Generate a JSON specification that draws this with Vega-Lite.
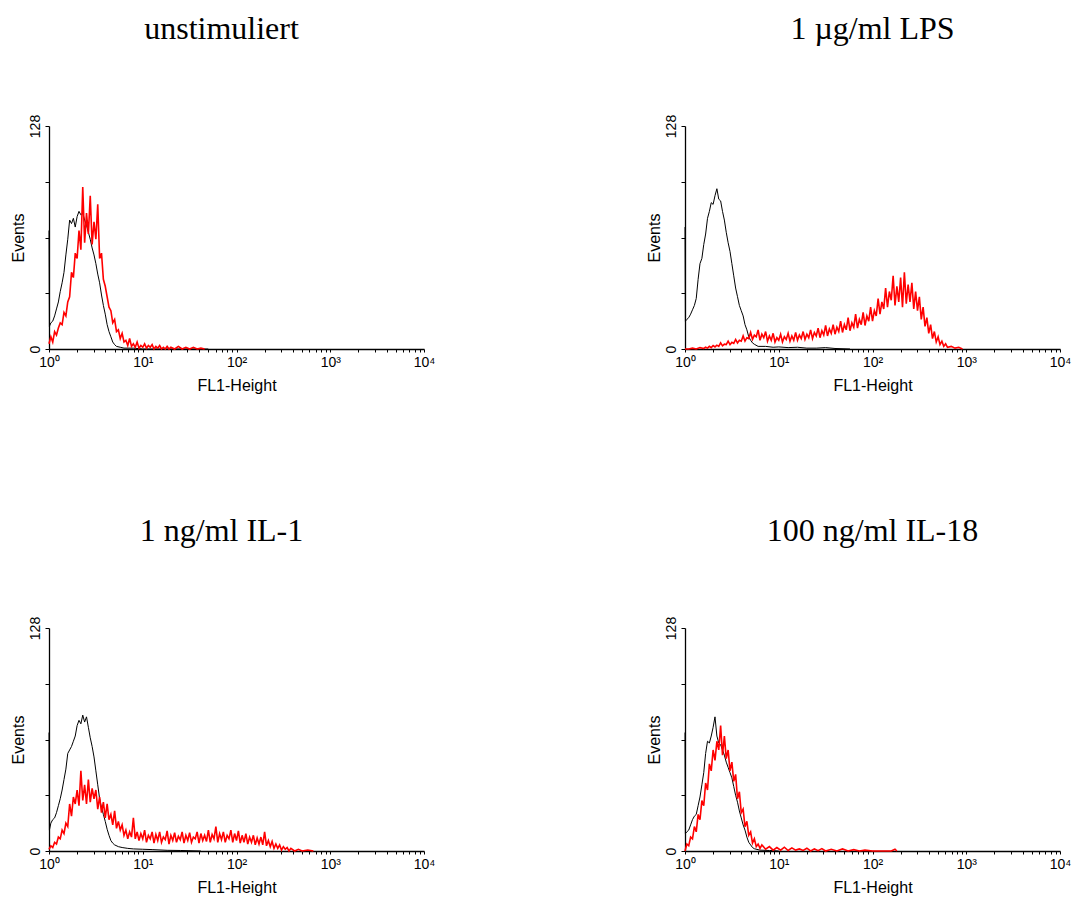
{
"$schema": "https://vega.github.io/schema/vega-lite/v6.json",
"background": "#ffffff",
"padding": {"left": 10, "top": 13, "right": 5, "bottom": 1},
"datasets": {
"a": [
{"s":"c","x":1,"y":68},{"s":"c","x":1.01,"y":13},{"s":"c","x":1.047,"y":15},{"s":"c","x":1.096,"y":16},{"s":"c","x":1.148,"y":19},{"s":"c","x":1.202,"y":23},{"s":"c","x":1.259,"y":27},{"s":"c","x":1.318,"y":33},{"s":"c","x":1.38,"y":38},{"s":"c","x":1.445,"y":44},{"s":"c","x":1.514,"y":54},{"s":"c","x":1.585,"y":63},{"s":"c","x":1.66,"y":74},{"s":"c","x":1.738,"y":72},{"s":"c","x":1.82,"y":75},{"s":"c","x":1.905,"y":70},{"s":"c","x":1.995,"y":76},{"s":"c","x":2.089,"y":79},{"s":"c","x":2.188,"y":77},{"s":"c","x":2.291,"y":78},{"s":"c","x":2.399,"y":74},{"s":"c","x":2.512,"y":71},{"s":"c","x":2.63,"y":67},{"s":"c","x":2.754,"y":63},{"s":"c","x":2.884,"y":58},{"s":"c","x":3.02,"y":54},{"s":"c","x":3.162,"y":49},{"s":"c","x":3.311,"y":43},{"s":"c","x":3.467,"y":38},{"s":"c","x":3.631,"y":31},{"s":"c","x":3.802,"y":25},{"s":"c","x":3.981,"y":20},{"s":"c","x":4.169,"y":14},{"s":"c","x":4.365,"y":10},{"s":"c","x":4.571,"y":7},{"s":"c","x":4.786,"y":4},{"s":"c","x":5.012,"y":2.5},{"s":"c","x":5.248,"y":1.5},{"s":"c","x":5.754,"y":1},{"s":"c","x":6.31,"y":0.5},{"s":"c","x":7.943,"y":0.5},{"s":"c","x":10,"y":0},{"s":"c","x":50,"y":0},
{"s":"t","x":1,"y":3},{"s":"t","x":1.047,"y":7},{"s":"t","x":1.096,"y":4},{"s":"t","x":1.148,"y":10},{"s":"t","x":1.202,"y":8},{"s":"t","x":1.259,"y":12},{"s":"t","x":1.318,"y":15},{"s":"t","x":1.38,"y":14},{"s":"t","x":1.445,"y":21},{"s":"t","x":1.514,"y":19},{"s":"t","x":1.585,"y":27},{"s":"t","x":1.66,"y":30},{"s":"t","x":1.738,"y":44},{"s":"t","x":1.82,"y":41},{"s":"t","x":1.905,"y":55},{"s":"t","x":1.995,"y":52},{"s":"t","x":2.089,"y":68},{"s":"t","x":2.188,"y":57},{"s":"t","x":2.291,"y":93},{"s":"t","x":2.399,"y":61},{"s":"t","x":2.512,"y":78},{"s":"t","x":2.63,"y":66},{"s":"t","x":2.754,"y":88},{"s":"t","x":2.884,"y":60},{"s":"t","x":3.02,"y":73},{"s":"t","x":3.162,"y":63},{"s":"t","x":3.311,"y":83},{"s":"t","x":3.467,"y":52},{"s":"t","x":3.631,"y":55},{"s":"t","x":3.802,"y":40},{"s":"t","x":3.981,"y":36},{"s":"t","x":4.169,"y":30},{"s":"t","x":4.365,"y":24},{"s":"t","x":4.571,"y":22},{"s":"t","x":4.786,"y":15},{"s":"t","x":5.012,"y":17},{"s":"t","x":5.248,"y":10},{"s":"t","x":5.495,"y":11},{"s":"t","x":5.754,"y":6},{"s":"t","x":6.026,"y":9},{"s":"t","x":6.31,"y":4},{"s":"t","x":6.607,"y":5},{"s":"t","x":6.918,"y":2},{"s":"t","x":7.244,"y":6},{"s":"t","x":7.586,"y":1.5},{"s":"t","x":7.943,"y":3},{"s":"t","x":8.318,"y":1},{"s":"t","x":8.71,"y":4},{"s":"t","x":9.12,"y":0.5},{"s":"t","x":9.55,"y":2},{"s":"t","x":10,"y":1},{"s":"t","x":10.47,"y":3},{"s":"t","x":10.96,"y":0.5},{"s":"t","x":11.48,"y":2},{"s":"t","x":12.02,"y":1},{"s":"t","x":12.59,"y":2.5},{"s":"t","x":13.18,"y":0},{"s":"t","x":13.8,"y":1.5},{"s":"t","x":14.45,"y":0.5},{"s":"t","x":15.14,"y":2},{"s":"t","x":15.85,"y":0},{"s":"t","x":16.6,"y":1},{"s":"t","x":17.38,"y":0},{"s":"t","x":18.2,"y":1.5},{"s":"t","x":19.05,"y":0},{"s":"t","x":19.95,"y":1},{"s":"t","x":21.88,"y":0},{"s":"t","x":23.99,"y":1.5},{"s":"t","x":26.3,"y":0},{"s":"t","x":28.84,"y":1},{"s":"t","x":31.62,"y":0},{"s":"t","x":34.67,"y":1},{"s":"t","x":38.02,"y":0},{"s":"t","x":41.69,"y":0.5},{"s":"t","x":45.71,"y":0}
],
"b": [
{"s":"c","x":1,"y":70},{"s":"c","x":1.01,"y":16},{"s":"c","x":1.047,"y":17},{"s":"c","x":1.096,"y":18},{"s":"c","x":1.148,"y":20},{"s":"c","x":1.202,"y":22.5},{"s":"c","x":1.259,"y":25},{"s":"c","x":1.318,"y":29},{"s":"c","x":1.38,"y":40},{"s":"c","x":1.445,"y":49},{"s":"c","x":1.514,"y":52},{"s":"c","x":1.585,"y":60},{"s":"c","x":1.66,"y":66},{"s":"c","x":1.738,"y":75},{"s":"c","x":1.82,"y":79},{"s":"c","x":1.905,"y":84},{"s":"c","x":1.995,"y":83},{"s":"c","x":2.089,"y":88},{"s":"c","x":2.188,"y":92},{"s":"c","x":2.291,"y":86},{"s":"c","x":2.399,"y":85},{"s":"c","x":2.512,"y":79},{"s":"c","x":2.63,"y":74},{"s":"c","x":2.754,"y":67},{"s":"c","x":2.884,"y":61},{"s":"c","x":3.02,"y":56},{"s":"c","x":3.162,"y":49},{"s":"c","x":3.311,"y":42},{"s":"c","x":3.467,"y":35},{"s":"c","x":3.631,"y":30},{"s":"c","x":3.802,"y":25},{"s":"c","x":3.981,"y":22},{"s":"c","x":4.169,"y":19},{"s":"c","x":4.365,"y":14},{"s":"c","x":4.571,"y":11},{"s":"c","x":4.786,"y":7},{"s":"c","x":5.012,"y":5},{"s":"c","x":5.248,"y":3.5},{"s":"c","x":5.495,"y":2.7},{"s":"c","x":6.026,"y":1.5},{"s":"c","x":7.244,"y":1.5},{"s":"c","x":8.71,"y":1},{"s":"c","x":10,"y":1.2},{"s":"c","x":12.59,"y":0.8},{"s":"c","x":15.85,"y":1},{"s":"c","x":19.95,"y":0.5},{"s":"c","x":25.12,"y":0.5},{"s":"c","x":31.62,"y":0.8},{"s":"c","x":39.81,"y":0.3},{"s":"c","x":57.54,"y":0},
{"s":"t","x":1,"y":0},{"s":"t","x":1.096,"y":0},{"s":"t","x":1.202,"y":0.5},{"s":"t","x":1.318,"y":0},{"s":"t","x":1.445,"y":0.8},{"s":"t","x":1.585,"y":0.3},{"s":"t","x":1.66,"y":1},{"s":"t","x":1.738,"y":0.5},{"s":"t","x":1.82,"y":1.5},{"s":"t","x":1.905,"y":0.8},{"s":"t","x":1.995,"y":2},{"s":"t","x":2.089,"y":1.2},{"s":"t","x":2.188,"y":2.2},{"s":"t","x":2.291,"y":1.5},{"s":"t","x":2.399,"y":3.5},{"s":"t","x":2.512,"y":1.8},{"s":"t","x":2.63,"y":2.8},{"s":"t","x":2.754,"y":2.5},{"s":"t","x":2.884,"y":4.5},{"s":"t","x":3.02,"y":2.5},{"s":"t","x":3.162,"y":3.8},{"s":"t","x":3.311,"y":3.2},{"s":"t","x":3.467,"y":5.5},{"s":"t","x":3.631,"y":3.5},{"s":"t","x":3.802,"y":5},{"s":"t","x":3.981,"y":4.5},{"s":"t","x":4.169,"y":7.5},{"s":"t","x":4.365,"y":4.5},{"s":"t","x":4.571,"y":6.5},{"s":"t","x":4.786,"y":6},{"s":"t","x":5.012,"y":9.5},{"s":"t","x":5.248,"y":5.5},{"s":"t","x":5.495,"y":8},{"s":"t","x":5.754,"y":7},{"s":"t","x":6.026,"y":11},{"s":"t","x":6.31,"y":5},{"s":"t","x":6.607,"y":8.5},{"s":"t","x":6.918,"y":6.5},{"s":"t","x":7.244,"y":10},{"s":"t","x":7.586,"y":4.5},{"s":"t","x":7.943,"y":7.5},{"s":"t","x":8.318,"y":5},{"s":"t","x":8.71,"y":9},{"s":"t","x":9.12,"y":4},{"s":"t","x":9.55,"y":6.5},{"s":"t","x":10,"y":5},{"s":"t","x":10.47,"y":8.5},{"s":"t","x":10.96,"y":4},{"s":"t","x":11.48,"y":7},{"s":"t","x":12.02,"y":5.5},{"s":"t","x":12.59,"y":9},{"s":"t","x":13.18,"y":4.5},{"s":"t","x":13.8,"y":7.5},{"s":"t","x":14.45,"y":5},{"s":"t","x":15.14,"y":9.5},{"s":"t","x":15.85,"y":5},{"s":"t","x":16.6,"y":8},{"s":"t","x":17.38,"y":6},{"s":"t","x":18.2,"y":10},{"s":"t","x":19.05,"y":5.5},{"s":"t","x":19.95,"y":8.5},{"s":"t","x":20.89,"y":6.5},{"s":"t","x":21.88,"y":11},{"s":"t","x":22.91,"y":6},{"s":"t","x":23.99,"y":9.5},{"s":"t","x":25.12,"y":7.5},{"s":"t","x":26.3,"y":12},{"s":"t","x":27.54,"y":6.5},{"s":"t","x":28.84,"y":10.5},{"s":"t","x":30.2,"y":8},{"s":"t","x":31.62,"y":13.5},{"s":"t","x":33.11,"y":7.5},{"s":"t","x":34.67,"y":11.5},{"s":"t","x":36.31,"y":9},{"s":"t","x":38.02,"y":14},{"s":"t","x":39.81,"y":8.5},{"s":"t","x":41.69,"y":12.5},{"s":"t","x":43.65,"y":10},{"s":"t","x":45.71,"y":16},{"s":"t","x":47.86,"y":9.5},{"s":"t","x":50.12,"y":14},{"s":"t","x":52.48,"y":11},{"s":"t","x":54.95,"y":18},{"s":"t","x":57.54,"y":10.5},{"s":"t","x":60.26,"y":15},{"s":"t","x":63.1,"y":12.5},{"s":"t","x":66.07,"y":20},{"s":"t","x":69.18,"y":12},{"s":"t","x":72.44,"y":17},{"s":"t","x":75.86,"y":14},{"s":"t","x":79.43,"y":21},{"s":"t","x":83.18,"y":13.5},{"s":"t","x":87.1,"y":19},{"s":"t","x":91.2,"y":16},{"s":"t","x":95.5,"y":24},{"s":"t","x":100,"y":16},{"s":"t","x":104.7,"y":22},{"s":"t","x":109.6,"y":19},{"s":"t","x":114.8,"y":29},{"s":"t","x":120.2,"y":20},{"s":"t","x":125.9,"y":27},{"s":"t","x":131.8,"y":23},{"s":"t","x":138,"y":35},{"s":"t","x":144.5,"y":24},{"s":"t","x":151.4,"y":33},{"s":"t","x":158.5,"y":28},{"s":"t","x":166,"y":42},{"s":"t","x":173.8,"y":25},{"s":"t","x":182,"y":36},{"s":"t","x":190.5,"y":27},{"s":"t","x":199.5,"y":41},{"s":"t","x":208.9,"y":24},{"s":"t","x":218.8,"y":44},{"s":"t","x":229.1,"y":26},{"s":"t","x":239.9,"y":37},{"s":"t","x":251.2,"y":27},{"s":"t","x":263,"y":38},{"s":"t","x":275.4,"y":23},{"s":"t","x":288.4,"y":33},{"s":"t","x":302,"y":22},{"s":"t","x":316.2,"y":30},{"s":"t","x":331.1,"y":17},{"s":"t","x":346.7,"y":24},{"s":"t","x":363.1,"y":13},{"s":"t","x":380.2,"y":18},{"s":"t","x":398.1,"y":9},{"s":"t","x":416.9,"y":14},{"s":"t","x":436.5,"y":6},{"s":"t","x":457.1,"y":10},{"s":"t","x":478.6,"y":4},{"s":"t","x":501.2,"y":7},{"s":"t","x":524.8,"y":2.5},{"s":"t","x":549.5,"y":4.5},{"s":"t","x":575.4,"y":1.5},{"s":"t","x":602.6,"y":3},{"s":"t","x":631,"y":1},{"s":"t","x":691.8,"y":1.5},{"s":"t","x":758.6,"y":0.5},{"s":"t","x":831.8,"y":1},{"s":"t","x":912,"y":0}
],
"c": [
{"s":"c","x":1,"y":68},{"s":"c","x":1.01,"y":12},{"s":"c","x":1.047,"y":16},{"s":"c","x":1.096,"y":18},{"s":"c","x":1.148,"y":19},{"s":"c","x":1.202,"y":22},{"s":"c","x":1.259,"y":26},{"s":"c","x":1.318,"y":30},{"s":"c","x":1.38,"y":35},{"s":"c","x":1.445,"y":41},{"s":"c","x":1.514,"y":47},{"s":"c","x":1.585,"y":56},{"s":"c","x":1.66,"y":58},{"s":"c","x":1.738,"y":60},{"s":"c","x":1.82,"y":63},{"s":"c","x":1.905,"y":66},{"s":"c","x":1.995,"y":72},{"s":"c","x":2.089,"y":75},{"s":"c","x":2.188,"y":73},{"s":"c","x":2.291,"y":78},{"s":"c","x":2.399,"y":74},{"s":"c","x":2.512,"y":77},{"s":"c","x":2.63,"y":71},{"s":"c","x":2.754,"y":65},{"s":"c","x":2.884,"y":60},{"s":"c","x":3.02,"y":54},{"s":"c","x":3.162,"y":46},{"s":"c","x":3.311,"y":38},{"s":"c","x":3.467,"y":30},{"s":"c","x":3.631,"y":25},{"s":"c","x":3.802,"y":21},{"s":"c","x":3.981,"y":17},{"s":"c","x":4.169,"y":12.5},{"s":"c","x":4.365,"y":9},{"s":"c","x":4.571,"y":6},{"s":"c","x":4.786,"y":4.5},{"s":"c","x":5.012,"y":3.5},{"s":"c","x":5.495,"y":2.5},{"s":"c","x":6.026,"y":2},{"s":"c","x":6.918,"y":1.5},{"s":"c","x":7.943,"y":1.2},{"s":"c","x":10,"y":1},{"s":"c","x":12.59,"y":0.8},{"s":"c","x":18.2,"y":0.4},{"s":"c","x":25.12,"y":0.3},{"s":"c","x":41.69,"y":0},
{"s":"t","x":1,"y":1},{"s":"t","x":1.047,"y":3},{"s":"t","x":1.096,"y":2},{"s":"t","x":1.148,"y":5},{"s":"t","x":1.202,"y":4},{"s":"t","x":1.259,"y":8},{"s":"t","x":1.318,"y":7},{"s":"t","x":1.38,"y":12},{"s":"t","x":1.445,"y":10},{"s":"t","x":1.514,"y":16},{"s":"t","x":1.585,"y":14},{"s":"t","x":1.66,"y":27},{"s":"t","x":1.738,"y":20},{"s":"t","x":1.82,"y":31},{"s":"t","x":1.905,"y":27},{"s":"t","x":1.995,"y":35},{"s":"t","x":2.089,"y":26},{"s":"t","x":2.188,"y":46},{"s":"t","x":2.291,"y":29},{"s":"t","x":2.399,"y":38},{"s":"t","x":2.512,"y":27},{"s":"t","x":2.63,"y":41},{"s":"t","x":2.754,"y":28},{"s":"t","x":2.884,"y":36},{"s":"t","x":3.02,"y":30},{"s":"t","x":3.162,"y":35},{"s":"t","x":3.311,"y":24},{"s":"t","x":3.467,"y":31},{"s":"t","x":3.631,"y":22},{"s":"t","x":3.802,"y":28},{"s":"t","x":3.981,"y":19},{"s":"t","x":4.169,"y":27},{"s":"t","x":4.365,"y":18},{"s":"t","x":4.571,"y":21},{"s":"t","x":4.786,"y":15},{"s":"t","x":5.012,"y":23},{"s":"t","x":5.248,"y":13},{"s":"t","x":5.495,"y":17},{"s":"t","x":5.754,"y":12},{"s":"t","x":6.026,"y":15},{"s":"t","x":6.31,"y":9},{"s":"t","x":6.607,"y":12},{"s":"t","x":6.918,"y":7},{"s":"t","x":7.244,"y":11},{"s":"t","x":7.586,"y":8},{"s":"t","x":7.943,"y":19},{"s":"t","x":8.318,"y":7},{"s":"t","x":8.71,"y":11},{"s":"t","x":9.12,"y":6},{"s":"t","x":9.55,"y":10},{"s":"t","x":10,"y":7},{"s":"t","x":10.47,"y":12},{"s":"t","x":10.96,"y":5},{"s":"t","x":11.48,"y":9},{"s":"t","x":12.02,"y":7},{"s":"t","x":12.59,"y":11},{"s":"t","x":13.18,"y":4.5},{"s":"t","x":13.8,"y":9.5},{"s":"t","x":14.45,"y":6},{"s":"t","x":15.14,"y":11},{"s":"t","x":15.85,"y":5},{"s":"t","x":16.6,"y":8},{"s":"t","x":17.38,"y":6.5},{"s":"t","x":18.2,"y":11.5},{"s":"t","x":19.05,"y":4},{"s":"t","x":19.95,"y":9},{"s":"t","x":20.89,"y":6},{"s":"t","x":21.88,"y":10.5},{"s":"t","x":22.91,"y":5},{"s":"t","x":23.99,"y":8.5},{"s":"t","x":25.12,"y":6.5},{"s":"t","x":26.3,"y":11},{"s":"t","x":27.54,"y":4.5},{"s":"t","x":28.84,"y":9},{"s":"t","x":30.2,"y":6},{"s":"t","x":31.62,"y":10.5},{"s":"t","x":33.11,"y":5},{"s":"t","x":34.67,"y":8},{"s":"t","x":36.31,"y":7},{"s":"t","x":38.02,"y":11},{"s":"t","x":39.81,"y":4.5},{"s":"t","x":41.69,"y":10},{"s":"t","x":43.65,"y":6},{"s":"t","x":45.71,"y":9},{"s":"t","x":47.86,"y":5.5},{"s":"t","x":50.12,"y":12},{"s":"t","x":52.48,"y":5},{"s":"t","x":54.95,"y":9.5},{"s":"t","x":57.54,"y":7},{"s":"t","x":60.26,"y":14},{"s":"t","x":63.1,"y":5},{"s":"t","x":66.07,"y":10},{"s":"t","x":69.18,"y":6.5},{"s":"t","x":72.44,"y":11},{"s":"t","x":75.86,"y":5},{"s":"t","x":79.43,"y":9},{"s":"t","x":83.18,"y":7},{"s":"t","x":87.1,"y":12},{"s":"t","x":91.2,"y":5},{"s":"t","x":95.5,"y":10},{"s":"t","x":100,"y":6},{"s":"t","x":104.7,"y":11.5},{"s":"t","x":109.6,"y":4.5},{"s":"t","x":114.8,"y":9},{"s":"t","x":120.2,"y":5},{"s":"t","x":125.9,"y":10},{"s":"t","x":131.8,"y":4},{"s":"t","x":138,"y":8},{"s":"t","x":144.5,"y":5},{"s":"t","x":151.4,"y":9},{"s":"t","x":158.5,"y":3.5},{"s":"t","x":166,"y":7.5},{"s":"t","x":173.8,"y":4},{"s":"t","x":182,"y":8},{"s":"t","x":190.5,"y":3.5},{"s":"t","x":199.5,"y":11},{"s":"t","x":208.9,"y":3},{"s":"t","x":218.8,"y":6},{"s":"t","x":229.1,"y":2.5},{"s":"t","x":239.9,"y":5.5},{"s":"t","x":251.2,"y":1.5},{"s":"t","x":263,"y":4},{"s":"t","x":275.4,"y":1.5},{"s":"t","x":288.4,"y":3.5},{"s":"t","x":302,"y":0.5},{"s":"t","x":316.2,"y":2.5},{"s":"t","x":331.1,"y":1},{"s":"t","x":346.7,"y":2},{"s":"t","x":363.1,"y":0},{"s":"t","x":380.2,"y":1.5},{"s":"t","x":416.9,"y":0},{"s":"t","x":457.1,"y":1},{"s":"t","x":501.2,"y":0},{"s":"t","x":575.4,"y":0.6},{"s":"t","x":660.7,"y":0}
],
"d": [
{"s":"c","x":1,"y":68},{"s":"c","x":1.01,"y":10},{"s":"c","x":1.047,"y":11},{"s":"c","x":1.096,"y":12},{"s":"c","x":1.148,"y":15},{"s":"c","x":1.202,"y":18},{"s":"c","x":1.259,"y":20},{"s":"c","x":1.318,"y":21},{"s":"c","x":1.38,"y":26},{"s":"c","x":1.445,"y":31},{"s":"c","x":1.514,"y":38},{"s":"c","x":1.585,"y":45},{"s":"c","x":1.66,"y":56},{"s":"c","x":1.738,"y":63},{"s":"c","x":1.82,"y":62},{"s":"c","x":1.905,"y":66},{"s":"c","x":1.995,"y":71},{"s":"c","x":2.089,"y":77},{"s":"c","x":2.188,"y":66},{"s":"c","x":2.291,"y":62},{"s":"c","x":2.399,"y":61},{"s":"c","x":2.512,"y":58},{"s":"c","x":2.63,"y":55},{"s":"c","x":2.754,"y":51},{"s":"c","x":2.884,"y":48},{"s":"c","x":3.02,"y":45},{"s":"c","x":3.162,"y":42},{"s":"c","x":3.311,"y":37},{"s":"c","x":3.467,"y":32},{"s":"c","x":3.631,"y":28},{"s":"c","x":3.802,"y":23},{"s":"c","x":3.981,"y":19},{"s":"c","x":4.169,"y":15},{"s":"c","x":4.365,"y":12},{"s":"c","x":4.571,"y":8},{"s":"c","x":4.786,"y":5},{"s":"c","x":5.012,"y":3.5},{"s":"c","x":5.248,"y":2},{"s":"c","x":5.495,"y":1.3},{"s":"c","x":6.31,"y":0.5},{"s":"c","x":7.943,"y":0.3},{"s":"c","x":10,"y":0},
{"s":"t","x":1,"y":0},{"s":"t","x":1.047,"y":4},{"s":"t","x":1.096,"y":3},{"s":"t","x":1.148,"y":8},{"s":"t","x":1.202,"y":7},{"s":"t","x":1.259,"y":14},{"s":"t","x":1.318,"y":11},{"s":"t","x":1.38,"y":21},{"s":"t","x":1.445,"y":18},{"s":"t","x":1.514,"y":29},{"s":"t","x":1.585,"y":26},{"s":"t","x":1.66,"y":39},{"s":"t","x":1.738,"y":35},{"s":"t","x":1.82,"y":50},{"s":"t","x":1.905,"y":46},{"s":"t","x":1.995,"y":58},{"s":"t","x":2.089,"y":52},{"s":"t","x":2.188,"y":63},{"s":"t","x":2.291,"y":58},{"s":"t","x":2.399,"y":72},{"s":"t","x":2.512,"y":55},{"s":"t","x":2.63,"y":66},{"s":"t","x":2.754,"y":53},{"s":"t","x":2.884,"y":58},{"s":"t","x":3.02,"y":46},{"s":"t","x":3.162,"y":51},{"s":"t","x":3.311,"y":40},{"s":"t","x":3.467,"y":44},{"s":"t","x":3.631,"y":30},{"s":"t","x":3.802,"y":34},{"s":"t","x":3.981,"y":22},{"s":"t","x":4.169,"y":24},{"s":"t","x":4.365,"y":14},{"s":"t","x":4.571,"y":17},{"s":"t","x":4.786,"y":9},{"s":"t","x":5.012,"y":11},{"s":"t","x":5.248,"y":4.5},{"s":"t","x":5.495,"y":7},{"s":"t","x":5.754,"y":2.5},{"s":"t","x":6.026,"y":4},{"s":"t","x":6.31,"y":1.5},{"s":"t","x":6.607,"y":3.5},{"s":"t","x":7.244,"y":1},{"s":"t","x":7.943,"y":2.5},{"s":"t","x":8.71,"y":0.5},{"s":"t","x":9.55,"y":2},{"s":"t","x":10.47,"y":0.5},{"s":"t","x":11.48,"y":2.2},{"s":"t","x":12.59,"y":0.3},{"s":"t","x":13.8,"y":1.8},{"s":"t","x":15.14,"y":0.5},{"s":"t","x":16.6,"y":1.2},{"s":"t","x":18.2,"y":0.3},{"s":"t","x":19.95,"y":1.6},{"s":"t","x":21.88,"y":0},{"s":"t","x":23.99,"y":1.2},{"s":"t","x":26.3,"y":0.2},{"s":"t","x":28.84,"y":1.4},{"s":"t","x":31.62,"y":0},{"s":"t","x":36.31,"y":1},{"s":"t","x":41.69,"y":0},{"s":"t","x":47.86,"y":1.2},{"s":"t","x":54.95,"y":0},{"s":"t","x":63.1,"y":0.8},{"s":"t","x":72.44,"y":0},{"s":"t","x":83.18,"y":0.5},{"s":"t","x":100,"y":0},{"s":"t","x":158.5,"y":0},{"s":"t","x":173.8,"y":1},{"s":"t","x":182,"y":0}
]
},
"vconcat": [
{"hconcat": [
{"title": {"text": "unstimuliert", "dx": -15}, "data": {"name": "a"}, "width": 375, "height": 223,
 "encoding": {
  "x": {"field": "x", "type": "quantitative", "scale": {"type": "log", "domain": [1, 10000], "nice": false}, "axis": {"title": "FL1-Height", "values": [1,2,3,4,5,6,7,8,9,10,20,30,40,50,60,70,80,90,100,200,300,400,500,600,700,800,900,1000,2000,3000,4000,5000,6000,7000,8000,9000,10000], "labelExpr": "datum.value == 1 ? '10⁰' : datum.value == 10 ? '10¹' : datum.value == 100 ? '10²' : datum.value == 1000 ? '10³' : datum.value == 10000 ? '10⁴' : ''", "tickSize": 3, "labelPadding": 3, "titlePadding": 8, "labelFlush": false, "labelOverlap": false}},
  "y": {"field": "y", "type": "quantitative", "scale": {"domain": [0, 128], "nice": false}, "axis": {"title": "Events", "values": [0, 32, 64, 96, 128], "labelExpr": "datum.value == 0 || datum.value == 128 ? datum.label : ''", "labelAngle": -90, "labelAlign": "center", "labelBaseline": "bottom", "tickSize": 4, "labelPadding": 3, "titlePadding": 2, "labelOverlap": false}}
 },
 "layer": [
  {"transform": [{"filter": {"field": "s", "equal": "c"}}], "mark": {"type": "line", "color": "#000000", "strokeWidth": 1}},
  {"transform": [{"filter": {"field": "s", "equal": "t"}}], "mark": {"type": "line", "color": "#ff0000", "strokeWidth": 1.6}}
 ]},
{"title": {"text": "1 µg/ml LPS"}, "data": {"name": "b"}, "width": 375, "height": 223,
 "encoding": {
  "x": {"field": "x", "type": "quantitative", "scale": {"type": "log", "domain": [1, 10000], "nice": false}, "axis": {"title": "FL1-Height", "values": [1,2,3,4,5,6,7,8,9,10,20,30,40,50,60,70,80,90,100,200,300,400,500,600,700,800,900,1000,2000,3000,4000,5000,6000,7000,8000,9000,10000], "labelExpr": "datum.value == 1 ? '10⁰' : datum.value == 10 ? '10¹' : datum.value == 100 ? '10²' : datum.value == 1000 ? '10³' : datum.value == 10000 ? '10⁴' : ''", "tickSize": 3, "labelPadding": 3, "titlePadding": 8, "labelFlush": false, "labelOverlap": false}},
  "y": {"field": "y", "type": "quantitative", "scale": {"domain": [0, 128], "nice": false}, "axis": {"title": "Events", "values": [0, 32, 64, 96, 128], "labelExpr": "datum.value == 0 || datum.value == 128 ? datum.label : ''", "labelAngle": -90, "labelAlign": "center", "labelBaseline": "bottom", "tickSize": 4, "labelPadding": 3, "titlePadding": 2, "labelOverlap": false}}
 },
 "layer": [
  {"transform": [{"filter": {"field": "s", "equal": "c"}}], "mark": {"type": "line", "color": "#000000", "strokeWidth": 1}},
  {"transform": [{"filter": {"field": "s", "equal": "t"}}], "mark": {"type": "line", "color": "#ff0000", "strokeWidth": 1.6}}
 ]}
], "spacing": 211},
{"hconcat": [
{"title": {"text": "1 ng/ml IL-1", "dx": -15}, "data": {"name": "c"}, "width": 375, "height": 223,
 "encoding": {
  "x": {"field": "x", "type": "quantitative", "scale": {"type": "log", "domain": [1, 10000], "nice": false}, "axis": {"title": "FL1-Height", "values": [1,2,3,4,5,6,7,8,9,10,20,30,40,50,60,70,80,90,100,200,300,400,500,600,700,800,900,1000,2000,3000,4000,5000,6000,7000,8000,9000,10000], "labelExpr": "datum.value == 1 ? '10⁰' : datum.value == 10 ? '10¹' : datum.value == 100 ? '10²' : datum.value == 1000 ? '10³' : datum.value == 10000 ? '10⁴' : ''", "tickSize": 3, "labelPadding": 3, "titlePadding": 8, "labelFlush": false, "labelOverlap": false}},
  "y": {"field": "y", "type": "quantitative", "scale": {"domain": [0, 128], "nice": false}, "axis": {"title": "Events", "values": [0, 32, 64, 96, 128], "labelExpr": "datum.value == 0 || datum.value == 128 ? datum.label : ''", "labelAngle": -90, "labelAlign": "center", "labelBaseline": "bottom", "tickSize": 4, "labelPadding": 3, "titlePadding": 2, "labelOverlap": false}}
 },
 "layer": [
  {"transform": [{"filter": {"field": "s", "equal": "c"}}], "mark": {"type": "line", "color": "#000000", "strokeWidth": 1}},
  {"transform": [{"filter": {"field": "s", "equal": "t"}}], "mark": {"type": "line", "color": "#ff0000", "strokeWidth": 1.6}}
 ]},
{"title": {"text": "100 ng/ml IL-18"}, "data": {"name": "d"}, "width": 375, "height": 223,
 "encoding": {
  "x": {"field": "x", "type": "quantitative", "scale": {"type": "log", "domain": [1, 10000], "nice": false}, "axis": {"title": "FL1-Height", "values": [1,2,3,4,5,6,7,8,9,10,20,30,40,50,60,70,80,90,100,200,300,400,500,600,700,800,900,1000,2000,3000,4000,5000,6000,7000,8000,9000,10000], "labelExpr": "datum.value == 1 ? '10⁰' : datum.value == 10 ? '10¹' : datum.value == 100 ? '10²' : datum.value == 1000 ? '10³' : datum.value == 10000 ? '10⁴' : ''", "tickSize": 3, "labelPadding": 3, "titlePadding": 8, "labelFlush": false, "labelOverlap": false}},
  "y": {"field": "y", "type": "quantitative", "scale": {"domain": [0, 128], "nice": false}, "axis": {"title": "Events", "values": [0, 32, 64, 96, 128], "labelExpr": "datum.value == 0 || datum.value == 128 ? datum.label : ''", "labelAngle": -90, "labelAlign": "center", "labelBaseline": "bottom", "tickSize": 4, "labelPadding": 3, "titlePadding": 2, "labelOverlap": false}}
 },
 "layer": [
  {"transform": [{"filter": {"field": "s", "equal": "c"}}], "mark": {"type": "line", "color": "#000000", "strokeWidth": 1}},
  {"transform": [{"filter": {"field": "s", "equal": "t"}}], "mark": {"type": "line", "color": "#ff0000", "strokeWidth": 1.6}}
 ]}
], "spacing": 211}
],
"spacing": 122,
"config": {
 "view": {"stroke": null},
 "font": "Liberation Sans",
 "axis": {"grid": false, "domainColor": "#000000", "domainWidth": 1.3, "tickColor": "#000000", "tickWidth": 1, "labelColor": "#000000", "titleColor": "#000000", "labelFont": "Liberation Sans", "titleFont": "Liberation Sans", "labelFontSize": 14, "titleFontSize": 16, "titleFontWeight": "normal"},
 "title": {"font": "Liberation Serif", "fontSize": 32, "fontWeight": "normal", "color": "#000000", "offset": 68, "baseline": "alphabetic", "anchor": "middle"}
}
}
